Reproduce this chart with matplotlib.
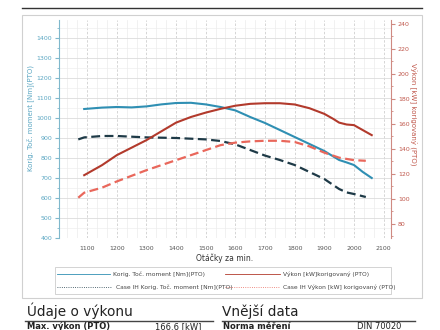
import matplotlib
matplotlib.use("Agg")
import matplotlib.pyplot as plt
from matplotlib.ticker import MultipleLocator, AutoMinorLocator
from matplotlib.lines import Line2D
from matplotlib.patches import Rectangle

# rpm values and curves
rpm_torque = [1090, 1150, 1200, 1250, 1300, 1350, 1400, 1450, 1500, 1550, 1600,
              1650, 1700, 1750, 1800, 1850, 1900, 1950, 1975, 2000, 2030, 2060]
torque = [1045, 1052, 1055, 1053, 1058, 1068, 1075, 1076, 1068, 1055, 1038,
          1005, 975, 940, 905, 870, 835, 790, 778, 765, 730, 700]

rpm_case_torque = [1070, 1090, 1150, 1200, 1300, 1400, 1500, 1550, 1600, 1650,
                   1700, 1750, 1800, 1850, 1900, 1950, 1975, 2000, 2040]
case_torque = [893, 903, 910, 910, 903, 900, 893, 885, 868, 840,
               812, 790, 765, 730, 695, 645, 628, 620, 605]

rpm_power = [1090, 1150, 1200, 1250, 1300, 1350, 1400, 1450, 1500, 1550, 1600,
             1650, 1700, 1750, 1800, 1850, 1900, 1930, 1950, 1975, 2000, 2030, 2060]
power = [119, 127, 135, 141, 147, 154, 161, 165.5, 169, 172, 174.5,
         176, 176.5, 176.5, 175.5, 172.5, 168, 164, 161, 159.5, 159, 155, 151]

rpm_case_power = [1070, 1090, 1150, 1200, 1300, 1400, 1500, 1550, 1600, 1650,
                  1700, 1750, 1800, 1850, 1900, 1950, 2000, 2040]
case_power = [101, 105, 109, 114, 123, 131, 139, 143, 145, 146,
              146.5, 146.5, 145.5, 142, 137, 133, 131, 130.5]

legend_labels = ["Korig. Toč. moment [Nm](PTO)", "Výkon [kW]korigovaný (PTO)",
                 "Case IH Korig. Toč. moment [Nm](PTO)", "Case IH Výkon [kW] korigovaný (PTO)"]

c_torque = "#2f8fb3"
c_power = "#b23a2c"
c_case_torque = "#1e3a47"
c_case_power = "#e9675b"
c_left_txt = "#5aa6c2"
c_right_txt = "#c0584c"

fig = plt.figure(figsize=(4.4, 3.3), dpi=100)
W, H = 440.0, 330.0

# outer chart box + top rule
fig.add_artist(Rectangle((22 / W, 1 - 298 / H), 400 / W, 283 / H, transform=fig.transFigure,
                         fill=False, edgecolor="#d0d0d0", linewidth=0.8))
fig.add_artist(Line2D([22 / W, 422 / W], [1 - 8 / H, 1 - 8 / H], transform=fig.transFigure,
                      color="#333333", linewidth=1.0))

ax = fig.add_axes([59 / W, 1 - 238 / H, 332 / W, 218 / H])
ax2 = ax.twinx()

ax.set_xlim(1005, 2125)
ax.set_ylim(400, 1490)
ax2.set_ylim(68.8, 243)

ax.plot(rpm_torque, torque, color=c_torque, linewidth=1.5, zorder=3)
ax.plot(rpm_case_torque, case_torque, color=c_case_torque, linewidth=1.6,
        dashes=(4, 2), zorder=3)
ax2.plot(rpm_power, power, color=c_power, linewidth=1.5, zorder=3)
ax2.plot(rpm_case_power, case_power, color=c_case_power, linewidth=1.6,
         dashes=(4, 2), zorder=3)

ax.xaxis.set_minor_locator(AutoMinorLocator(3))
ax.yaxis.set_minor_locator(AutoMinorLocator(2))
ax2.yaxis.set_minor_locator(AutoMinorLocator(2))

ax.set_xticks(range(1100, 2101, 100))
ax.set_yticks(range(400, 1401, 100))
ax2.set_yticks(range(80, 241, 20))

ax.grid(which="major", axis="x", color="#cfcfcf", linestyle=(0, (3, 2)), linewidth=0.6)
ax.grid(which="minor", axis="x", color="#ececec", linestyle="-", linewidth=0.5)
ax.grid(which="major", axis="y", color="#dcdcdc", linestyle="-", linewidth=0.6)
ax.grid(which="minor", axis="y", color="#eeeeee", linestyle="-", linewidth=0.5)
ax.set_axisbelow(True)

for s in ["top", "right", "bottom"]:
    ax.spines[s].set_visible(False)
for s in ["top", "left", "bottom"]:
    ax2.spines[s].set_visible(False)
ax.spines["left"].set_color("#7fb8cc")
ax.spines["left"].set_linewidth(0.8)
ax2.spines["right"].set_color("#cf8a82")
ax2.spines["right"].set_linewidth(0.8)

ax.tick_params(axis="x", which="both", length=0, labelsize=4.5, labelcolor="#555555", pad=6)
ax.tick_params(axis="y", which="major", length=3, color="#7fb8cc", labelsize=4.5,
               labelcolor=c_left_txt, pad=2)
ax.tick_params(axis="y", which="minor", length=1.5, color="#7fb8cc")
ax2.tick_params(axis="y", which="major", length=3, color="#cf8a82", labelsize=4.5,
                labelcolor=c_right_txt, pad=2)
ax2.tick_params(axis="y", which="minor", length=1.5, color="#cf8a82")

ax.set_xlabel("Otáčky za min.", fontsize=5.5, color="#333333")
ax.xaxis.set_label_coords(0.5, -(258 - 238) / 218, transform=ax.transAxes)
ax.set_ylabel("Korig. Toč. moment [Nm](PTO)", fontsize=5, color=c_left_txt)
ax.yaxis.set_label_coords(-(59 - 30) / 332, (238 - 118) / 218)
ax2.set_ylabel("Výkon [kW] korigovaný (PTO)", fontsize=5, color=c_right_txt, rotation=270)
ax2.yaxis.set_label_coords((414 - 59) / 332, (238 - 114) / 218)
ax.xaxis.label.set_va("center")
ax.yaxis.label.set_va("center")
ax2.yaxis.label.set_va("center")

# legend box drawn below the chart
fig.add_artist(Rectangle((55 / W, 1 - 294 / H), 336 / W, 27 / H, transform=fig.transFigure,
                         fill=False, edgecolor="#cccccc", linewidth=0.6))
leg_styles = [(c_torque, "-"), (c_power, "-"), (c_case_torque, ":"), (c_case_power, ":")]
leg_pos = [(57, 110, 113, 274), (225, 280, 283, 274), (57, 112, 116, 287), (225, 280, 283, 287)]
for (col, ls), (x0, x1, tx, yy), lab in zip(leg_styles, leg_pos, legend_labels):
    fig.add_artist(Line2D([x0 / W, x1 / W], [1 - yy / H, 1 - yy / H], transform=fig.transFigure,
                          color=col, linestyle=ls, linewidth=0.6))
    fig.text(tx / W, 1 - yy / H, lab, fontsize=4.3, color="#444444", va="center", ha="left")

# text block below
fig.text(27 / W, 1 - 316 / H, "Údaje o výkonu", fontsize=9.8, color="#222222", ha="left",
         va="baseline")
fig.text(222 / W, 1 - 316 / H, "Vnější data", fontsize=9.8, color="#222222", ha="left",
         va="baseline")
fig.add_artist(Line2D([25 / W, 213 / W], [1 - 321 / H, 1 - 321 / H], transform=fig.transFigure,
                      color="#444444", linewidth=1.0))
fig.add_artist(Line2D([222 / W, 415 / W], [1 - 321 / H, 1 - 321 / H], transform=fig.transFigure,
                      color="#444444", linewidth=1.0))
fig.text(27 / W, 1 - 329 / H, "Max. výkon (PTO)", fontsize=6, fontweight="bold", color="#222222",
         ha="left", va="baseline")
fig.text(155 / W, 1 - 329 / H, "166.6 [kW]", fontsize=6, color="#222222", ha="left",
         va="baseline")
fig.text(223 / W, 1 - 329 / H, "Norma měření", fontsize=6, fontweight="bold", color="#222222",
         ha="left", va="baseline")
fig.text(357 / W, 1 - 329 / H, "DIN 70020", fontsize=6, color="#222222", ha="left",
         va="baseline")

fig.savefig("out.png", dpi=100)
